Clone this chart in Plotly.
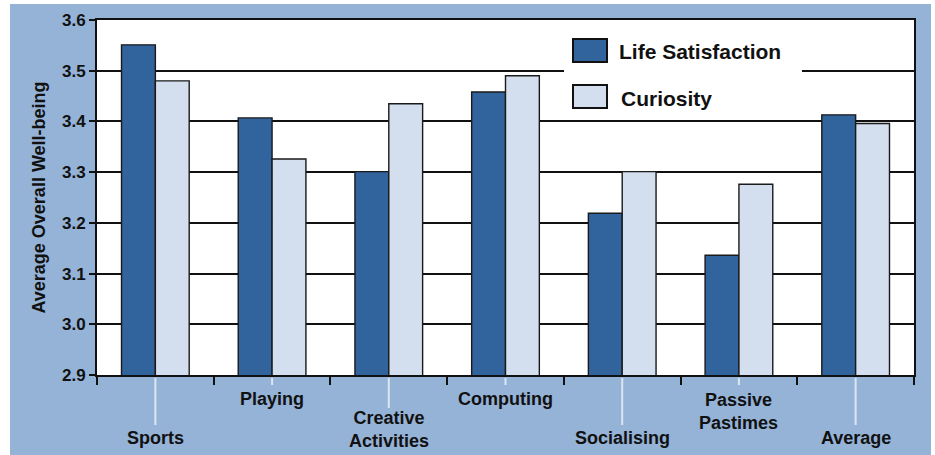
import plotly.graph_objects as go

# valeurs
categories = ["Sports", "Playing", "Creative Activities", "Computing",
              "Socialising", "Passive Pastimes", "Average"]
life_satisfaction = [3.551, 3.407, 3.301, 3.458, 3.219, 3.136, 3.413]
curiosity = [3.480, 3.326, 3.435, 3.490, 3.301, 3.276, 3.396]
y_ticks = [2.9, 3.0, 3.1, 3.2, 3.3, 3.4, 3.5, 3.6]

DARK = "#31639c"
LIGHT = "#d3deee"
BG = "#95b3d7"
FONT = "Liberation Sans"

# étiquettes décalées sous l'axe : (centre du texte, bas du trait de rappel) en px
label_rows = {"Sports": (438, 425), "Playing": (399, 385),
              "Creative Activities": (429, 408), "Computing": (399, 385),
              "Socialising": (438, 425), "Passive Pastimes": (411, 385),
              "Average": (438, 425)}

PLOT_TOP, PLOT_BOTTOM, PLOT_LEFT, PLOT_RIGHT = 20, 375, 97, 914
H = PLOT_BOTTOM - PLOT_TOP
W = PLOT_RIGHT - PLOT_LEFT


def py(pix):
    return (PLOT_BOTTOM - pix) / H


def px(pix):
    return (pix - PLOT_LEFT) / W


def bold(size):
    return dict(family=FONT, size=size, color="#111", weight="bold")


fig = go.Figure()
fig.add_trace(go.Bar(x=categories, y=life_satisfaction, name="Life Satisfaction",
                     marker=dict(color=DARK, line=dict(color="#1a1a1a", width=1.4)),
                     showlegend=False))
fig.add_trace(go.Bar(x=categories, y=curiosity, name="Curiosity",
                     marker=dict(color=LIGHT, line=dict(color="#1a1a1a", width=1.4)),
                     showlegend=False))

shapes = [
    # fond bleu + zone blanche du graphique
    dict(type="rect", xref="paper", yref="paper", x0=px(10), x1=px(931),
         y0=py(460), y1=py(4), fillcolor=BG, line_width=0, layer="below"),
    dict(type="rect", xref="paper", yref="paper", x0=0, x1=1, y0=0, y1=1,
         fillcolor="white", line_width=0, layer="below"),
    # légende
    dict(type="rect", xref="paper", yref="paper", x0=px(564), x1=px(802),
         y0=py(117), y1=py(28), fillcolor="white", line_width=0, layer="above"),
    dict(type="rect", xref="paper", yref="paper", x0=px(573), x1=px(607),
         y0=py(62), y1=py(39), fillcolor=DARK, line=dict(color="#111", width=2),
         layer="above"),
    dict(type="rect", xref="paper", yref="paper", x0=px(573), x1=px(607),
         y0=py(108), y1=py(85), fillcolor=LIGHT, line=dict(color="#111", width=2),
         layer="above"),
]

annotations = [
    dict(xref="paper", yref="paper", x=px(617), y=py(51), xanchor="left",
         yanchor="middle", text="Life Satisfaction", showarrow=False, font=bold(21)),
    dict(xref="paper", yref="paper", x=px(619), y=py(98), xanchor="left",
         yanchor="middle", text="Curiosity", showarrow=False, font=bold(21)),
]

for cat in categories:
    mid, line_end = label_rows[cat]
    shapes.append(dict(type="line", xref="x", yref="paper", x0=cat, x1=cat,
                       y0=py(378), y1=py(line_end),
                       line=dict(color="#dce5f2", width=2)))
    annotations.append(dict(xref="x", yref="paper", x=cat, y=py(mid),
                            xanchor="center", yanchor="middle", showarrow=False,
                            text=cat.replace(" ", "<br>"), font=bold(18)))

fig.update_layout(
    width=935, height=455,
    margin=dict(l=PLOT_LEFT, r=935 - PLOT_RIGHT, t=PLOT_TOP, b=455 - PLOT_BOTTOM),
    paper_bgcolor="white", plot_bgcolor="white",
    barmode="group", bargap=0.42, bargroupgap=0,
    shapes=shapes, annotations=annotations,
    font=dict(family=FONT, size=17, color="#111"),
)
fig.update_xaxes(showticklabels=False, tickson="boundaries", ticks="outside",
                 ticklen=8, tickwidth=2, tickcolor="#111",
                 showline=True, linecolor="#111", linewidth=2, mirror=True,
                 showgrid=False)
fig.update_yaxes(range=[2.9, 3.6], tickvals=y_ticks,
                 ticktext=[f"{v:.1f}" for v in y_ticks],
                 ticks="outside", ticklen=6, tickwidth=2, tickcolor="#111",
                 showline=True, linecolor="#111", linewidth=2, mirror=True,
                 showgrid=True, gridcolor="#111", gridwidth=2, zeroline=False,
                 tickfont=bold(17),
                 title=dict(text="Average Overall Well-being", standoff=12, font=bold(18)))

fig.write_html("out.html", config={"displayModeBar": False},
               post_script="document.body.style.margin='0';")
